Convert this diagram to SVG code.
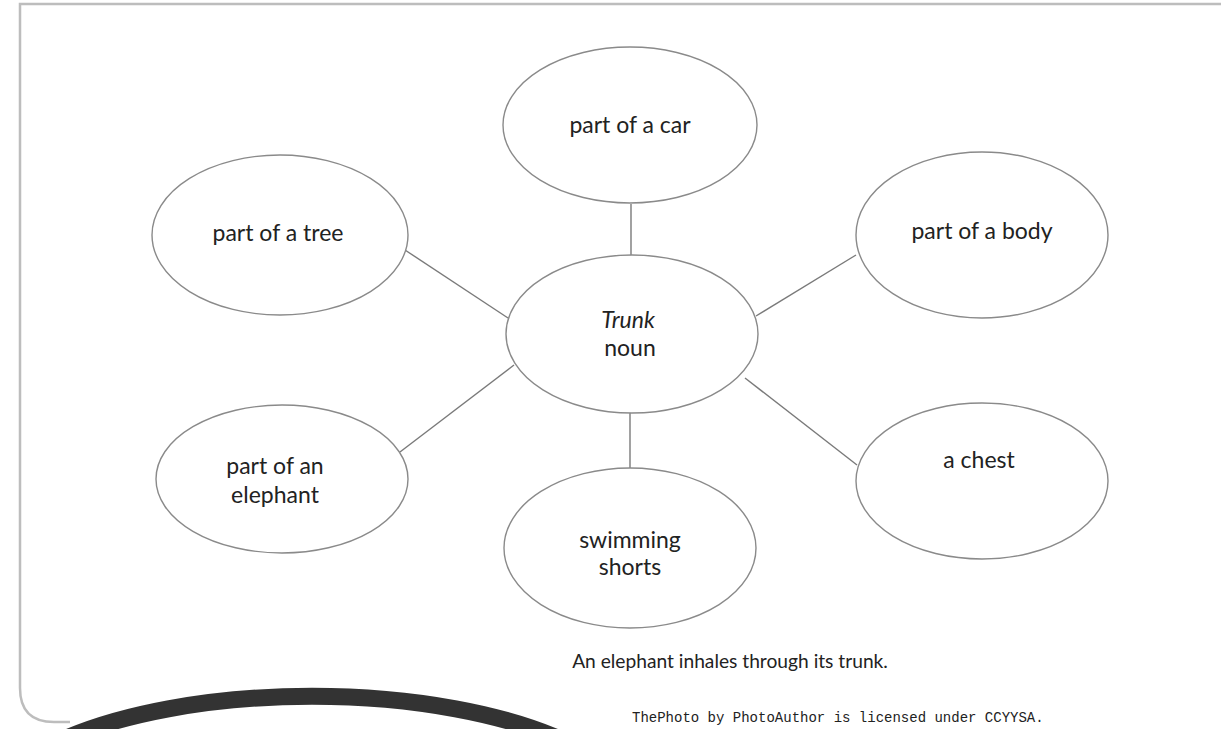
<svg xmlns="http://www.w3.org/2000/svg" width="1230" height="729" viewBox="0 0 1230 729">
<style>
.node ellipse{fill:#fff;stroke:#8a8a8a;stroke-width:1.4}
.conn line{stroke:#7a7a7a;stroke-width:1.4}
.lbl{font-family:Lato,"Open Sans",sans-serif;font-size:23px;fill:#222;text-anchor:middle}
.it{font-style:italic}
.cap{font-family:Lato,"Open Sans",sans-serif;font-size:19.2px;fill:#222;text-anchor:middle}
.credit{font-family:"Liberation Mono",monospace;font-size:14px;fill:#222}
</style>
<rect x="0" y="0" width="1230" height="729" fill="#fff"/>
<path d="M1221 4 L20 4 L20 688 Q20 722 54 722 L70 722" fill="none" stroke="#bdbdbd" stroke-width="2.5"/>
<g class="conn" id="connectors">
<line x1="631" y1="204" x2="631" y2="256"/>
<line x1="405" y1="250" x2="508" y2="318"/>
<line x1="856" y1="255" x2="756" y2="316"/>
<line x1="400" y1="452" x2="514" y2="365"/>
<line x1="745" y1="378" x2="857" y2="465"/>
<line x1="630" y1="413" x2="630" y2="469"/>
</g>
<g class="node" id="n-center"><ellipse cx="632" cy="334" rx="126" ry="79"/><text class="lbl it" x="628" y="328">Trunk</text><text class="lbl" x="630" y="356">noun</text></g>
<g class="node" id="n-car"><ellipse cx="630" cy="125" rx="127" ry="78"/><text class="lbl" x="630" y="133">part of a car</text></g>
<g class="node" id="n-tree"><ellipse cx="280" cy="235" rx="128" ry="80"/><text class="lbl" x="278" y="241">part of a tree</text></g>
<g class="node" id="n-body"><ellipse cx="982" cy="235" rx="126" ry="83"/><text class="lbl" x="982" y="239">part of a body</text></g>
<g class="node" id="n-elephant"><ellipse cx="282" cy="479" rx="126" ry="74"/><text class="lbl" x="275" y="474">part of an</text><text class="lbl" x="275" y="503">elephant</text></g>
<g class="node" id="n-chest"><ellipse cx="982" cy="481" rx="126" ry="78"/><text class="lbl" x="979" y="468">a chest</text></g>
<g class="node" id="n-shorts"><ellipse cx="630" cy="548" rx="126" ry="80"/><text class="lbl" x="630" y="548">swimming</text><text class="lbl" x="630" y="575">shorts</text></g>
<text class="cap" x="730" y="668">An elephant inhales through its trunk.</text>
<path d="M62 740 A330 126 0 0 1 562 740" fill="none" stroke="#333" stroke-width="17"/>
<text class="credit" x="632" y="722">ThePhoto by PhotoAuthor is licensed under CCYYSA.</text>
</svg>
